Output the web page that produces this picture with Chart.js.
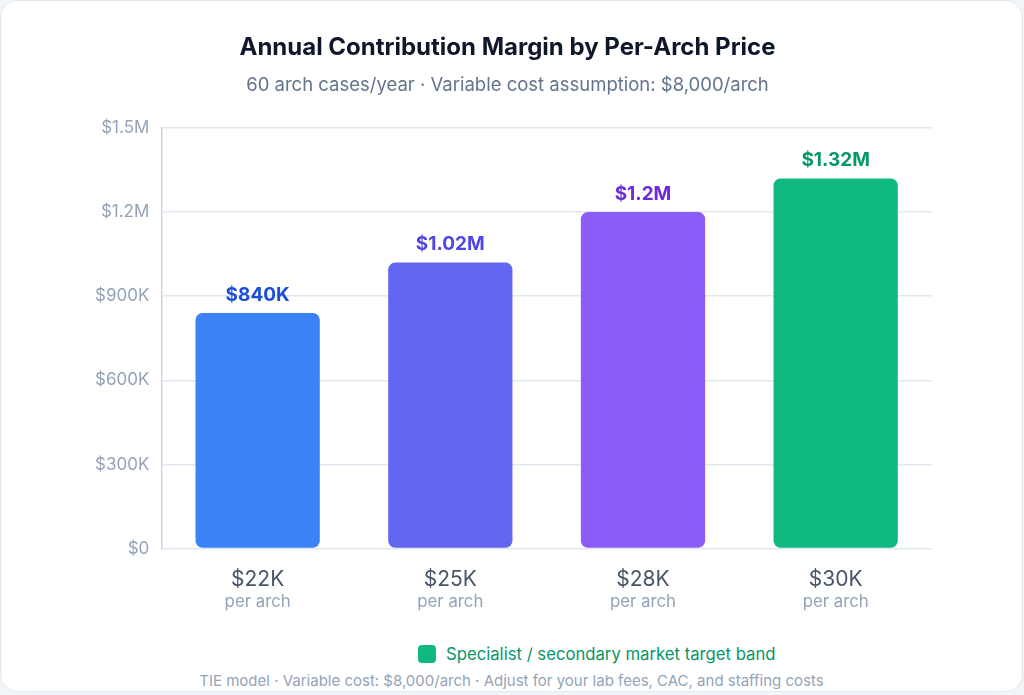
<!DOCTYPE html>
<html>
<head>
<meta charset="utf-8">
<script src="https://cdn.jsdelivr.net/npm/chart.js@4.4.1/dist/chart.umd.min.js"></script>
<style>
  html, body { margin: 0; padding: 0; background: #f1f5f9; font-family: Inter, "Noto Sans", sans-serif; }
  .card {
    position: absolute; left: 0; top: 0; width: 1021px; height: 690px;
    background: #fff; border: 1.5px solid #e2e8f0; border-radius: 18px; overflow: hidden;
  }
  #wrap { position: absolute; left: 0; top: 0; width: 1021px; height: 640px; }
  .legend {
    position: absolute; top: 643px; left: 417px; display: flex; align-items: center;
    font-size: 16.7px; color: #059669;
  }
  .legend i { display: inline-block; width: 18px; height: 18px; border-radius: 4px; background: #10b981; margin-right: 10px; }
  .footer { position: absolute; top: 670px; left: 0; width: 100%; text-align: center; font-size: 15px; color: #94a3b8; }
</style>
</head>
<body>
<div class="card">
  <div id="wrap"><canvas id="chart"></canvas></div>
  <div class="legend"><i></i><span id="legendText"></span></div>
  <div class="footer" id="footer"></div>
</div>
<script>
const prices = ["$22K", "$25K", "$28K", "$30K"];
const margins = [840000, 1020000, 1200000, 1320000];
const valueLabels = ["$840K", "$1.02M", "$1.2M", "$1.32M"];
const barColors = ["#3b82f6", "#6366f1", "#8b5cf6", "#10b981"];
const labelColors = ["#1d4ed8", "#4f46e5", "#6d28d9", "#059669"];
const yTicks = ["$0", "$300K", "$600K", "$900K", "$1.2M", "$1.5M"];

const title = "Annual Contribution Margin by Per-Arch Price";
const subtitle = "60 arch cases/year · Variable cost assumption: $8,000/arch";
const legendLabel = "Specialist / secondary market target band";
const footerText = "TIE model · Variable cost: $8,000/arch · Adjust for your lab fees, CAC, and staffing costs";

document.getElementById("legendText").textContent = legendLabel;
document.getElementById("footer").textContent = footerText;

// value labels above bars + "per arch" line under each price
const barLabels = {
  id: "barLabels",
  afterDatasetsDraw(chart) {
    const ctx = chart.ctx;
    const meta = chart.getDatasetMeta(0);
    ctx.save();
    ctx.textAlign = "center";
    ctx.textBaseline = "middle";
    ctx.font = "bold 19px Inter, sans-serif";
    meta.data.forEach((bar, i) => {
      ctx.fillStyle = labelColors[i];
      ctx.fillText(valueLabels[i], bar.x, bar.y - 18);
    });
    const xScale = chart.scales.x;
    ctx.font = "16.8px Inter, sans-serif";
    ctx.fillStyle = "#94a3b8";
    prices.forEach((p, i) => {
      ctx.fillText("per arch", xScale.getPixelForTick(i), chart.chartArea.bottom + 53);
    });
    ctx.restore();
  }
};

new Chart(document.getElementById("chart"), {
  type: "bar",
  data: {
    labels: prices,
    datasets: [{
      data: margins,
      backgroundColor: barColors,
      borderRadius: 7,
      borderSkipped: false,
      barPercentage: 0.645,
      categoryPercentage: 1
    }]
  },
  options: {
    responsive: true,
    maintainAspectRatio: false,
    animation: false,
    layout: { padding: { top: 32, left: 82, right: 90, bottom: 14 } },
    plugins: {
      legend: { display: false },
      tooltip: { enabled: false },
      title: {
        display: true,
        text: title,
        color: "#0f172a",
        font: { family: "Inter", size: 24, weight: "bold" },
        padding: { top: 0, bottom: 13 }
      },
      subtitle: {
        display: true,
        text: subtitle,
        color: "#64748b",
        font: { family: "Inter", size: 18.5 },
        padding: { top: 0, bottom: 31 }
      }
    },
    scales: {
      x: {
        grid: { display: false },
        border: { display: false },
        ticks: {
          color: "#475569",
          font: { family: "Inter", size: 21 },
          padding: 10,
          callback: (v, i) => [prices[i], " "]
        }
      },
      y: {
        min: 0,
        max: 1500000,
        grid: { color: "#e2e8f0", lineWidth: 1.5, drawTicks: false },
        border: { display: true, color: "#cbd5e1", width: 1.5 },
        ticks: {
          stepSize: 300000,
          color: "#94a3b8",
          font: { family: "Inter", size: 17 },
          padding: 12,
          callback: (v, i) => yTicks[i]
        }
      }
    }
  },
  plugins: [barLabels]
});
</script>
</body>
</html>
